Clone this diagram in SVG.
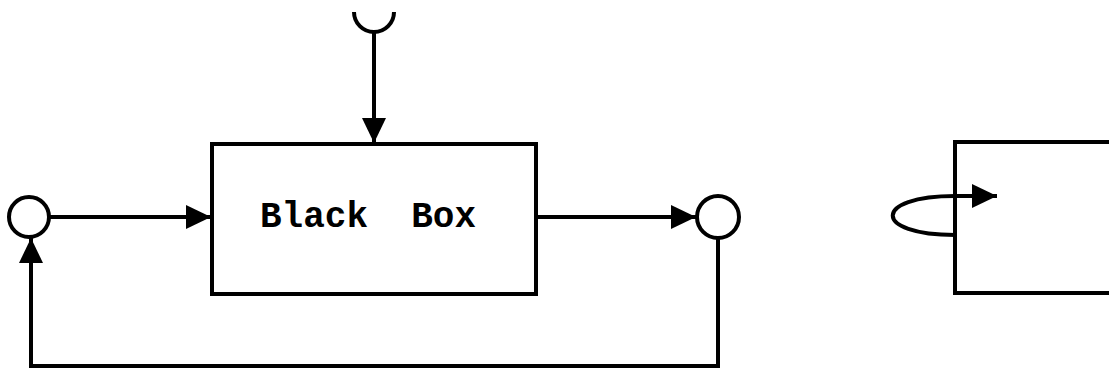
<svg xmlns="http://www.w3.org/2000/svg" width="1109" height="370" viewBox="0 0 1109 370">
  <style>
    .box { fill: #fff; stroke: #000; stroke-width: 4; }
    .line { fill: none; stroke: #000; stroke-width: 4; }
    .port { fill: #fff; stroke: #000; stroke-width: 4; }
    .label { font-family: "Liberation Mono", "DejaVu Sans Mono", monospace; font-weight: bold; font-size: 36px; fill: #000; }
  </style>
  <defs>
    <marker id="arrow" markerUnits="userSpaceOnUse" markerWidth="26" markerHeight="24" refX="25" refY="12" orient="auto">
      <path d="M0,0 L25,12 L0,24 Z" fill="#000"/>
    </marker>
  </defs>
  <rect width="1109" height="370" fill="#fff"/>

  <!-- main block -->
  <g id="black-box">
    <rect class="box" x="212" y="144" width="324" height="150"/>
    <text class="label" x="260" y="227" xml:space="preserve">Black  Box</text>
  </g>

  <!-- second block, running off the right edge -->
  <g id="side-box">
    <rect class="box" x="955" y="142" width="200" height="151"/>
  </g>

  <!-- ports -->
  <g id="input-port">
    <circle class="port" cx="29" cy="217" r="20"/>
  </g>
  <g id="output-port">
    <circle class="port" cx="718" cy="217" r="21"/>
  </g>
  <g id="control-port">
    <path class="line" d="M354,12 A20,20 0 0 0 394,12"/>
  </g>

  <!-- connectors -->
  <g id="connectors">
    <path class="line" d="M374,32 L374,143" marker-end="url(#arrow)"/>
    <path class="line" d="M49,217 L211,217" marker-end="url(#arrow)"/>
    <path class="line" d="M536,217 L696,217" marker-end="url(#arrow)"/>
    <path class="line" d="M718,238 L718,366 L31,366 L31,238" marker-end="url(#arrow)"/>
    <path class="line" d="M955,235 C872,235 872,196 955,196"/>
    <path class="line" d="M955,196 L997,196" marker-end="url(#arrow)"/>
  </g>
</svg>
